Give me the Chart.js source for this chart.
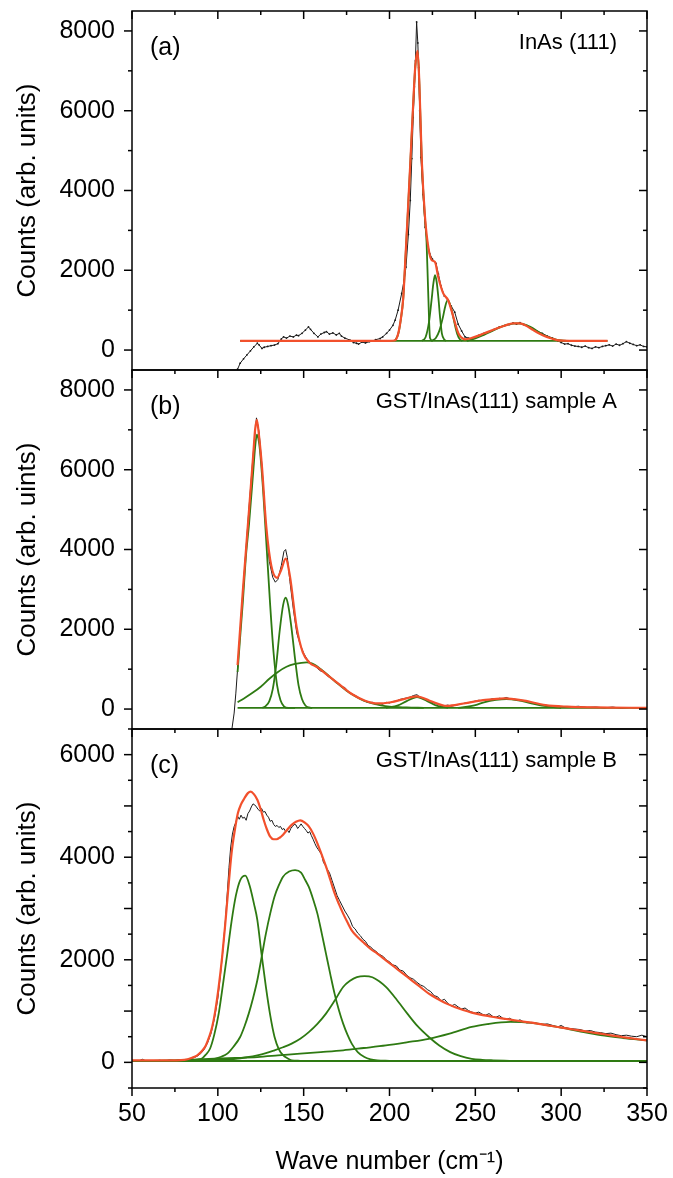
<!DOCTYPE html>
<html lang="en">
<head>
<meta charset="UTF-8">
<title>Raman spectra InAs(111), GST/InAs(111)</title>
<script src="https://cdn.jsdelivr.net/npm/chart.js"></script>
<style>
  body { margin: 0; background: #fff; }
  canvas { display: block; }
</style>
</head>
<body>
<canvas id="myChart" width="673" height="1178"></canvas>
<script>
// ---------- (a) InAs (111) ----------
const aDataX = [111.5,113,115,117,119,121,123,124,125.7,127, 129,131,133,135,137,138.3,140,142,144,145.8,
  147,149,151,152.8,154,156,158.3,160,162,163.3, 165,167,169,170.8,172,174,177,179,180.8,182,
  184,186,188.3,190,192,194.6,196,198.3,200,202, 203.3,205,207.1,208.5,209.6,211,212.1,213,213.8,214.5,
  215.1,215.8,216.5,217,217.6,218.3,219.5,220.8,222,223.4, 225,227.1,228.5,230,232,234,236,238,240,242,
  244,246,248,250,252,255,258,261,264,267, 270,272,274,276,278,280,283,286,289,292,
  295,298,300,302,304,306,308,310,312,314, 316,318,320,322,324,326,328,330,332,334,
  336,338,340,342,344,346,348,350];
const aDataY = [-480,-330,-220,-120,-20,80,170,130,40,70, 90,110,125,160,280,330,300,350,330,375,
  360,420,500,580,520,420,330,400,440,460, 400,430,380,420,350,300,250,190,170,150,
  200,180,210,230,260,290,330,420,500,620, 750,1000,1420,1750,2080,2900,3750,4800,5830,6600,
  7250,8225,7700,7080,6000,4830,3900,3080,2700,2420, 2280,2170,1900,1600,1350,1250,1100,950,650,480,
  330,300,280,330,370,420,460,520,580,610, 640,680,650,690,640,610,540,470,420,350,
  300,230,190,150,160,120,100,90,70,100, 60,40,80,60,90,110,130,100,150,120,
  160,210,170,140,110,130,90,80];

const aFitX = [113,150,200,203,205,206.5,208,209,210.5,212, 213.9,215,216.4,217.4,218.8,220.7,222.6,224.6,226.5,228.4,
  231.3,234.2,237.2,240.1,242,244,246.9,252.7,257,262.4, 267,272,276,280,283.8,287.5,291.6,295,297.4,301, 310,327];
const aFitY = [230,230,230,240,400,750,1300,2080,3300,4580, 6250,7100,7500,6670,4750,3330,2580,2250,2210,1830,
  1420,1250,830,420,310,270,290,375,450,540, 610,670,670,600,500,410,330,280,250,235, 230,230];

const aPeak1X = [203,205,206.5,208,209,210.5,212,213.9,215,216.4,217.4,218.8,220.5,221.6,222.5,223.6,225];
const aPeak1Y = [230,390,740,1290,2070,3290,4570,6240,7090,7490,6660,4740,3400,2700,1500,300,230];
const aPeak2X = [218.8,221,223,224.5,225.5,226.5,227.5,228.5,229.5,230.5,232,233];
const aPeak2Y = [230,320,700,1250,1650,1875,1700,1300,800,420,260,230];
const aPeak3X = [224.6,227,229,231,232.5,233.9,235,236.5,238,239.5,241,242.5];
const aPeak3Y = [230,300,480,800,1100,1250,1180,950,650,400,270,230];
const aPeak4X = [245,250,255,260,265,270,274,278,282,286,290,295,300,305];
const aPeak4Y = [230,290,380,480,580,650,670,650,580,480,370,290,240,230];
const aBaseX = [113,327];
const aBaseY = [230,230];

// ---------- (b) GST/InAs(111) sample A ----------
const bDataX = [108.2,109.5,110.5,111.5,114.5,118,120.7,122.5,124,125.7, 128,130,132,133.5,135,137,138.5,139.5,140.5,142,
  144,146,148.3,150,152,154,156,158,160,162, 164,166,168,170,172,174,176,178,180,182,
  184,186,188,190,192,194,196,198,200,202, 204,206,208,210,212,214,216,218,220,222,
  224,226,228,230,232,234,236,238,240,242, 244,246,248,250,252,254,256,258,260,262,
  264,266,268,270,272,274,276,278,280,282, 284,286,288,290,292,294,296,298,300,305,
  310,315,320,325,330,335,340,345,350];
const bDataY = [-500,-100,400,1000,2900,4950,6450,7300,6950,6100, 4600,3700,3300,3180,3250,3600,3950,4000,3800,3200,
  2500,1900,1580,1400,1250,1150,1100,1020,950,930, 820,780,700,650,560,540,430,380,340,290,
  240,190,160,170,110,140,120,170,150,190, 200,240,260,280,300,340,360,290,250,230,
  180,150,120,90,80,100,70,90,110,130, 150,160,180,200,220,210,240,230,260,250,
  270,260,290,260,250,240,230,200,190,170, 140,130,110,100,90,80,70,80,60,50,
  70,40,50,30,50,20,40,30,30];

const bFitX = [111.5,114.5,118.2,120.7,121.7,122.7,124,125.7,128.2,131.2, 134.5,137,139.5,142,145.8,149.5,153.3,158.3,163.3,170.8,
  178.3,185.8,193.3,200.8,208.3,215.8,223.4,233.4,243.3,255.9, 267.1,278.4,290.9,303.4,320,350];
const bFitY = [1100,2920,5000,6420,7000,7250,6850,6080,4580,3580, 3290,3500,3770,3330,2080,1420,1170,1040,870,620,
  370,210,140,170,250,320,210,80,140,230, 270,210,100,60,40,30];

const bPeak1X = [111.5,113,114.5,116.5,118.2,120.7,121.7,122.7,123.6,124.5,126.5,128.5,130.5,132.5,134.5,136.5,138.5,141,145];
const bPeak1Y = [930,1800,2650,3900,4650,6000,6550,6880,6780,6500,5400,4000,2600,1400,600,220,70,30,30];
const bPeak2X = [126,128,130,132,134,136,138,139.5,141,143,145,147,149,151,153,155];
const bPeak2Y = [30,80,200,500,1100,1950,2600,2790,2600,2000,1250,600,250,90,40,30];
const bPeak3X = [111.5,115,120,125,130,135,140,145,151.7,155,160,165,170,175,180,185,190,195,200,210,220];
const bPeak3Y = [170,260,400,560,760,930,1060,1130,1170,1140,1000,820,630,460,320,210,140,90,60,40,30];
const bPeak4X = [198,205,210,216,222,227,234];
const bPeak4Y = [30,90,200,300,200,90,30];
const bPeak5X = [240,250,255,262,268,275,282,290,300];
const bPeak5Y = [30,100,170,230,250,220,150,80,30];
const bBaseX = [111.5,350];
const bBaseY = [30,30];

// ---------- (c) GST/InAs(111) sample B ----------
const cDataX = [50,52,54,56,58,60,63,66,69,72, 75,78,80,82,84,86,88,90,92,94,
  96,98,100,101.5,103,104.5,105.5,106.5,107.5,108.5, 109.5,110.5,111.5,112.5,113.5,114.5,115.5,116.5,117.5,118.5,
  119.5,120.5,121.5,122.5,123.5,124.5,125.5,126.5,127.5,128.5, 129.5,130.5,131.5,132.5,133.5,134.5,135.5,136.5,137.5,138.5,
  139.5,140.5,141.5,142.5,143.5,144.5,145.5,146.5,147.5,148.5, 149.5,150.5,151.5,152.5,153.5,154.5,155.5,156.5,157.5,158.5,
  159.5,160.5,161.5,162.5,163.5,165,166.5,168,169.5,171, 172.5,174,175.5,177,178.5,180,181.5,183,184.5,186,
  187.5,189,190.5,192,193.5,195,196.5,198,200,202, 204,206,208,210,212,214,216,218,220,222,
  224,226,228,230,232,234,236,238,240,242, 244,246,248,250,252,254,256,258,260,262,
  264,266,268,270,272,274,276,278,280,283, 286,289,292,295,298,300,302,305,308,311,
  314,317,320,323,326,329,332,335,338,341, 344,347,350];
const cDataY = [30,35,25,60,30,35,25,40,30,45, 35,50,40,55,70,90,120,170,250,380,
  560,850,1250,1700,2200,2800,3300,3800,4200,4450, 4600,4680,4800,4740,4820,4760,4780,4720,4850,4900,
  4980,5040,5020,4980,4930,4900,4950,4880,4890,4820, 4780,4700,4720,4640,4600,4620,4580,4600,4540,4560,
  4500,4530,4480,4560,4600,4640,4630,4560,4600,4650, 4600,4560,4520,4470,4500,4420,4350,4270,4200,4150,
  4100,4050,3900,3850,3780,3700,3550,3400,3250,3150, 3050,2950,2870,2780,2650,2600,2520,2470,2400,2360,
  2280,2250,2200,2170,2120,2090,2060,2000,1960,1900, 1880,1800,1780,1700,1650,1620,1560,1510,1480,1420,
  1380,1300,1280,1200,1230,1150,1100,1130,1080,1040, 1060,1010,980,960,980,940,920,950,900,880,
  910,860,840,860,820,800,830,790,770,780, 760,740,750,720,690,720,680,660,650,640,
  610,620,590,580,560,570,540,520,530,510, 500,530,500];

const cFitX = [50,60,70,80.5,85,88,91,93,95,96.7, 98.5,100.5,102.5,104.2,106,108,110,111.7,113.5,115.5,
  117.5,119.2,121,123,125,126.7,128.5,130.5,132.5,134.2, 136,138,140.5,143,145.5,148,150.5,153,155.5,158,
  160.5,163,165.5,168,170.5,173,175.5,177.9,181.5,185.4, 189,192.9,197.9,202.9,207.9,212.9,217.9,222.9,227.9,232.9,
  237.9,242.9,247.9,252.9,257.9,262.9,267.9,272.9,279,285.4, 291.5,297.9,304,310.4,316.5,322.9,329,335.4,342.7,350];
const cFitY = [40,40,40,50,90,137,230,330,500,690, 1000,1470,2050,2650,3350,4080,4550,4860,5030,5150,
  5250,5280,5230,5120,4930,4730,4550,4400,4350,4350, 4380,4440,4540,4630,4690,4720,4680,4600,4460,4270,
  4050,3820,3560,3300,3090,2900,2730,2580,2440,2320, 2210,2120,1990,1860,1730,1600,1470,1340,1240,1150,
  1080,1020,970,930,900,870,845,820,790,760, 725,690,657,625,592,560,527,495,460,430];

const cPeak1X = [80,85,88,90.5,93,95.5,98,100.5,103,105.5, 108,110.5,113,116,118.5,121,123,125.5,128,130.5, 133,135.5,138,140.5,143,148];
const cPeak1Y = [30,40,55,70,150,270,550,950,1520,2120, 2750,3250,3550,3640,3450,3100,2780,2100,1470,920, 500,260,140,80,40,30];
const cPeak2X = [90,98,102,105.5,109,113,115.5,118,120.5,123, 125.5,128,130.5,133,135.5,138,141.5,145,148.5,151,
  153,155.5,158,160.5,163,165.5,168,170.5,173,175.5, 178,181.5,185.4,189,192.9,200];
const cPeak2Y = [30,70,110,170,300,495,700,950,1250,1600, 2050,2510,2900,3230,3450,3620,3720,3750,3700,3550,
  3420,3180,2900,2520,2120,1720,1340,1020,755,540, 365,200,104,60,40,30];
const cPeak3X = [70,90.5,100,110.5,117,123,128,133,138,143, 148,153,158,163,168,173,177,181,185.4,190,
  194,197.9,204,210.4,216.5,222.9,229,235.4,241.5,247.9, 254,260.4,270];
const cPeak3Y = [30,40,55,70,100,137,180,235,295,365, 460,590,750,950,1200,1470,1590,1660,1680,1660,
  1580,1470,1230,950,700,495,330,200,120,70, 50,40,30];
const cPeak4X = [50,73,85,98,110,123,135,148,160,173, 185,197.9,210,222.9,235,247.9,258,265,270.4,277, 285,297.9,310,322.9,336,350];
const cPeak4Y = [26,40,55,70,85,104,135,170,200,235, 280,330,390,460,560,690,750,780,790,785, 760,690,610,530,475,430];
const cBaseX = [50,350];
const cBaseY = [26,26];

// tick labels
const xTickValues = [50,100,150,200,250,300,350];
const abTickValues = [0,2000,4000,6000,8000];
const cTickValues = [0,1000,2000,3000,4000,5000,6000];

// panel texts
const panelTags = ['(a)', '(b)', '(c)'];
const panelNotes = ['InAs (111)', 'GST/InAs(111) sample A', 'GST/InAs(111) sample B'];
const yTitles = ['Counts (arb. units)', 'Counts (arb. uints)', 'Counts (arb. units)'];

const RED = '#f2502c';
const GREEN = '#2e7a12';
const BLACK = '#1a1a1a';
const FONT = '"Liberation Sans", Arial, sans-serif';

const pts = (xs, ys) => xs.map((x, i) => ({x: x, y: ys[i]}));

function curve(xs, ys, axis, kind) {
    const ds = {
        data: pts(xs, ys),
        yAxisID: axis,
        pointRadius: 0,
        fill: false
    };
    if (kind === 'data') {
        ds.borderColor = BLACK; ds.borderWidth = 1; ds.order = 2; ds.tension = 0;
    } else if (kind === 'fit') {
        ds.borderColor = RED; ds.borderWidth = 2.2; ds.order = 0; ds.cubicInterpolationMode = 'monotone';
    } else {
        ds.borderColor = GREEN; ds.borderWidth = 1.8; ds.order = 1; ds.cubicInterpolationMode = 'monotone';
    }
    return ds;
}

const datasets = [
    curve(aDataX, aDataY, 'ya', 'data'),
    curve(aBaseX, aBaseY, 'ya', 'peak'),
    curve(aPeak1X, aPeak1Y, 'ya', 'peak'),
    curve(aPeak2X, aPeak2Y, 'ya', 'peak'),
    curve(aPeak3X, aPeak3Y, 'ya', 'peak'),
    curve(aPeak4X, aPeak4Y, 'ya', 'peak'),
    curve(aFitX, aFitY, 'ya', 'fit'),

    curve(bDataX, bDataY, 'yb', 'data'),
    curve(bBaseX, bBaseY, 'yb', 'peak'),
    curve(bPeak1X, bPeak1Y, 'yb', 'peak'),
    curve(bPeak2X, bPeak2Y, 'yb', 'peak'),
    curve(bPeak3X, bPeak3Y, 'yb', 'peak'),
    curve(bPeak4X, bPeak4Y, 'yb', 'peak'),
    curve(bPeak5X, bPeak5Y, 'yb', 'peak'),
    curve(bFitX, bFitY, 'yb', 'fit'),

    curve(cDataX, cDataY, 'yc', 'data'),
    curve(cBaseX, cBaseY, 'yc', 'peak'),
    curve(cPeak1X, cPeak1Y, 'yc', 'peak'),
    curve(cPeak2X, cPeak2Y, 'yc', 'peak'),
    curve(cPeak3X, cPeak3Y, 'yc', 'peak'),
    curve(cPeak4X, cPeak4Y, 'yc', 'peak'),
    curve(cFitX, cFitY, 'yc', 'fit')
];

// small dots on the InAs raw data
datasets[0].pointRadius = 0.9;
datasets[0].pointBackgroundColor = BLACK;
datasets[0].pointBorderWidth = 0;

const panelIds = ['ya', 'yb', 'yc'];
const majorStep = {ya: 2000, yb: 2000, yc: 1000};

function yAxis(idx, min, max, tickValues) {
    return {
        type: 'linear',
        position: 'left',
        stack: 'panels',
        stackWeight: 1,
        min: min,
        max: max,
        afterBuildTicks: s => { s.ticks = tickValues.map(v => ({value: v})); },
        ticks: {
            padding: 17,
            color: '#000',
            font: {family: FONT, size: 25},
            callback: v => v
        },
        grid: {display: false, drawTicks: false},
        border: {display: false},
        title: {
            display: true,
            text: yTitles[idx],
            color: '#000',
            font: {family: FONT, size: 26},
            padding: {top: 12, bottom: 0}
        },
        afterFit: s => { s.width = 132; s.paddingTop = 0; s.paddingBottom = 0; }
    };
}

// frame, minor/major ticks and panel labels
const framePlugin = {
    id: 'frame',
    afterDraw(chart) {
        const ctx = chart.ctx;
        const xs = chart.scales.x;
        const L = xs.left, R = xs.right;
        const seg = (x1, y1, x2, y2) => { ctx.beginPath(); ctx.moveTo(x1, y1); ctx.lineTo(x2, y2); ctx.stroke(); };
        const xTicks = y => {
            for (let v = xs.min; v <= xs.max; v += 25) {
                const px = xs.getPixelForValue(v);
                seg(px, y, px, y + (v % 50 === 0 ? 8 : 4));
            }
        };
        ctx.save();
        ctx.strokeStyle = '#000';
        ctx.lineWidth = 1.5;
        panelIds.forEach((id, i) => {
            const ys = chart.scales[id];
            const major = majorStep[id], minor = major / 2;
            ctx.strokeRect(L, ys.top, R - L, ys.bottom - ys.top);
            for (let v = Math.ceil(ys.min / minor) * minor; v <= ys.max; v += minor) {
                const py = ys.getPixelForValue(v);
                const len = (v % major === 0) ? 8 : 4;
                seg(L - len, py, L, py);
                seg(R - len, py, R, py);
            }
            xTicks(ys.top);

            ctx.fillStyle = '#000';
            ctx.textBaseline = 'middle';
            ctx.textAlign = 'left';
            ctx.font = '25px ' + FONT;
            ctx.fillText(panelTags[i], L + 18, ys.top + 37);
            ctx.textAlign = 'right';
            ctx.font = '22px ' + FONT;
            ctx.fillText(panelNotes[i], R - 30, ys.top + 32);
        });
        xTicks(chart.scales.yc.bottom);
        ctx.restore();
    }
};

const ctx = document.getElementById('myChart').getContext('2d');
const myChart = new Chart(ctx, {
    type: 'line',
    data: {datasets: datasets},
    options: {
        responsive: false,
        animation: false,
        devicePixelRatio: 1,
        layout: {padding: {top: 11, right: 26, left: 0, bottom: 0}},
        plugins: {legend: {display: false}, tooltip: {enabled: false}},
        scales: {
            x: {
                type: 'linear',
                position: 'bottom',
                min: 50,
                max: 350,
                afterBuildTicks: s => { s.ticks = xTickValues.map(v => ({value: v})); },
                ticks: {padding: 11, color: '#000', font: {family: FONT, size: 25}, callback: v => v},
                grid: {display: false, drawTicks: false},
                border: {display: false},
                title: {
                    display: true,
                    text: 'Wave number (cm\u207B\u00B9)',
                    color: '#000',
                    font: {family: FONT, size: 25},
                    padding: {top: 0, bottom: 1}
                },
                afterFit: s => { s.height = 90; s.paddingLeft = 0; s.paddingRight = 0; }
            },
            yc: yAxis(2, -500, 6500, cTickValues),
            yb: yAxis(1, -500, 8500, abTickValues),
            ya: yAxis(0, -500, 8500, abTickValues)
        }
    },
    plugins: [framePlugin]
});
</script>
</body>
</html>
